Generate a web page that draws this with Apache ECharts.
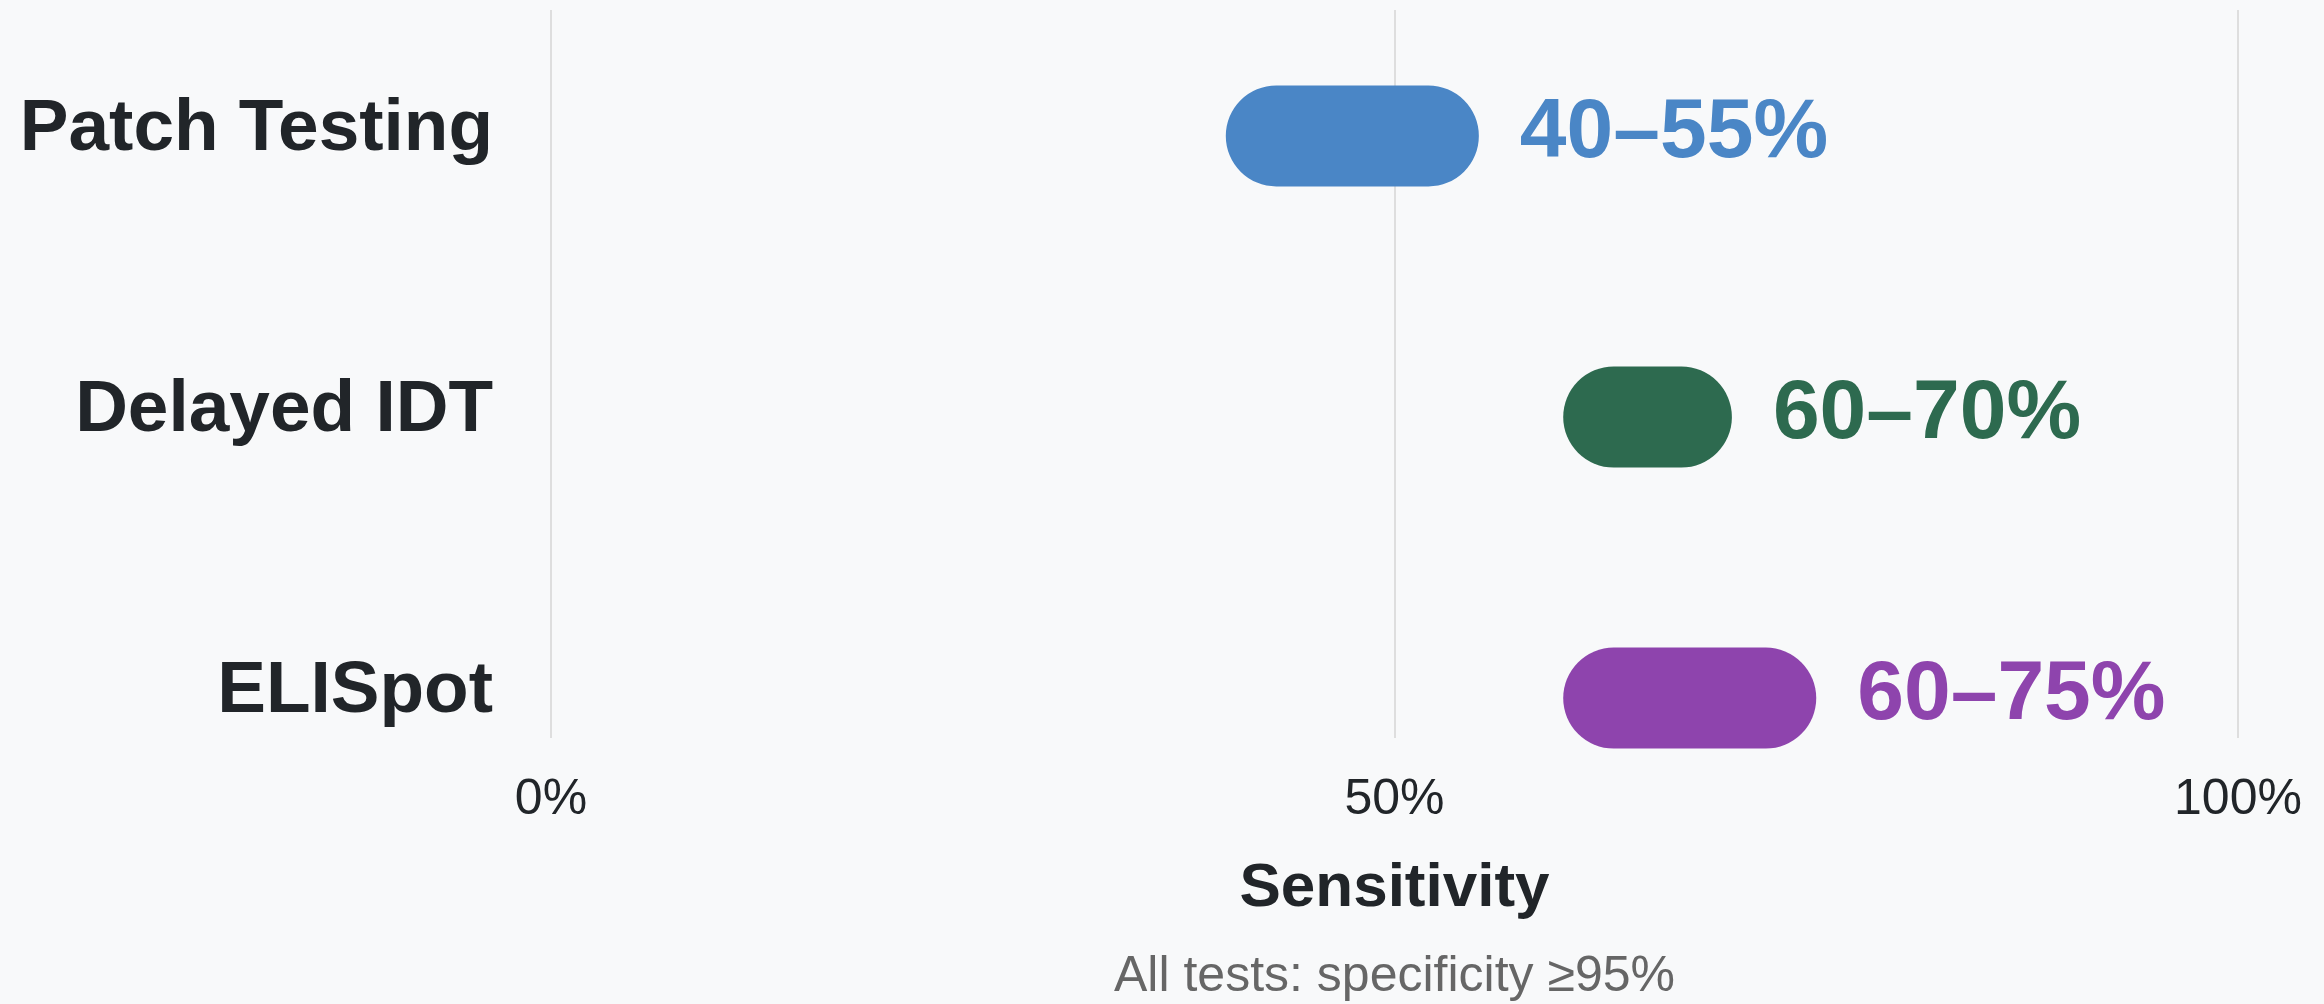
<!DOCTYPE html>
<html>
<head>
<meta charset="utf-8">
<script src="https://cdn.jsdelivr.net/npm/echarts@6/dist/echarts.min.js"></script>
<style>
html,body{margin:0;padding:0;background:#f8f9fa;}
#chart{width:2324px;height:1004px;}
</style>
</head>
<body>
<div id="chart"></div>
<script>
const categories = ['Patch Testing', 'Delayed IDT', 'ELISpot'];
const lowValues = [40, 60, 60];
const highValues = [55, 70, 75];
const rangeLabels = ['40–55%', '60–70%', '60–75%'];
const barColors = ['#4a86c6', '#2d6a4f', '#8e44ad'];
const xTicks = [0, 50, 100];
const axisTitle = 'Sensitivity';
const footnote = 'All tests: specificity ≥95%';

const FONT = '"Liberation Sans", Arial, Helvetica, sans-serif';
const chart = echarts.init(document.getElementById('chart'));

const seriesData = categories.map((c, i) => [i, lowValues[i], highValues[i]]);
const GRID_LEFT = 551, GRID_RIGHT = 86;
const plotCenter = GRID_LEFT + (2324 - GRID_LEFT - GRID_RIGHT) / 2;

chart.setOption({
  backgroundColor: '#f8f9fa',
  animation: false,
  graphic: [
    { type: 'text', x: plotCenter, y: 889,
      style: { text: axisTitle, font: 'bold 62px ' + FONT, fill: '#212529', align: 'center', verticalAlign: 'middle' } },
    { type: 'text', x: plotCenter, y: 977,
      style: { text: footnote, font: '50px ' + FONT, fill: '#666666', align: 'center', verticalAlign: 'middle' } }
  ],
  grid: { left: GRID_LEFT, right: GRID_RIGHT, top: 10, bottom: 266 },
  xAxis: {
    type: 'value', min: xTicks[0], max: xTicks[xTicks.length - 1], interval: 50,
    axisLine: { show: false }, axisTick: { show: false },
    splitLine: { show: true, lineStyle: { color: '#dedede', width: 2 } },
    axisLabel: { formatter: '{value}%', fontFamily: FONT, fontSize: 50, color: '#212529', margin: 37 }
  },
  yAxis: {
    type: 'value', inverse: true, min: -0.448, max: 2.142, show: false,
    splitLine: { show: false }
  },
  series: [{
    type: 'custom',
    clip: false,
    encode: { x: [1, 2], y: 0 },
    data: seriesData,
    renderItem: function (params, api) {
      const i = api.value(0);
      const s = api.coord([api.value(1), i]);
      const e = api.coord([api.value(2), i]);
      const axis0 = api.coord([0, i]);
      const h = 101;
      const idx = params.dataIndex;
      return {
        type: 'group',
        children: [
          { type: 'rect',
            shape: { x: s[0], y: s[1] - h / 2, width: e[0] - s[0], height: h, r: h / 2 },
            style: { fill: barColors[idx] } },
          { type: 'text',
            x: e[0] + 41, y: s[1] - 2,
            style: { text: rangeLabels[idx], fill: barColors[idx], font: 'bold 84px ' + FONT,
                     align: 'left', verticalAlign: 'middle' } },
          { type: 'text',
            x: axis0[0] - 58, y: s[1] - 6,
            style: { text: categories[idx], fill: '#212529', font: 'bold 73px ' + FONT,
                     align: 'right', verticalAlign: 'middle' } }
        ]
      };
    }
  }]
});
</script>
</body>
</html>
